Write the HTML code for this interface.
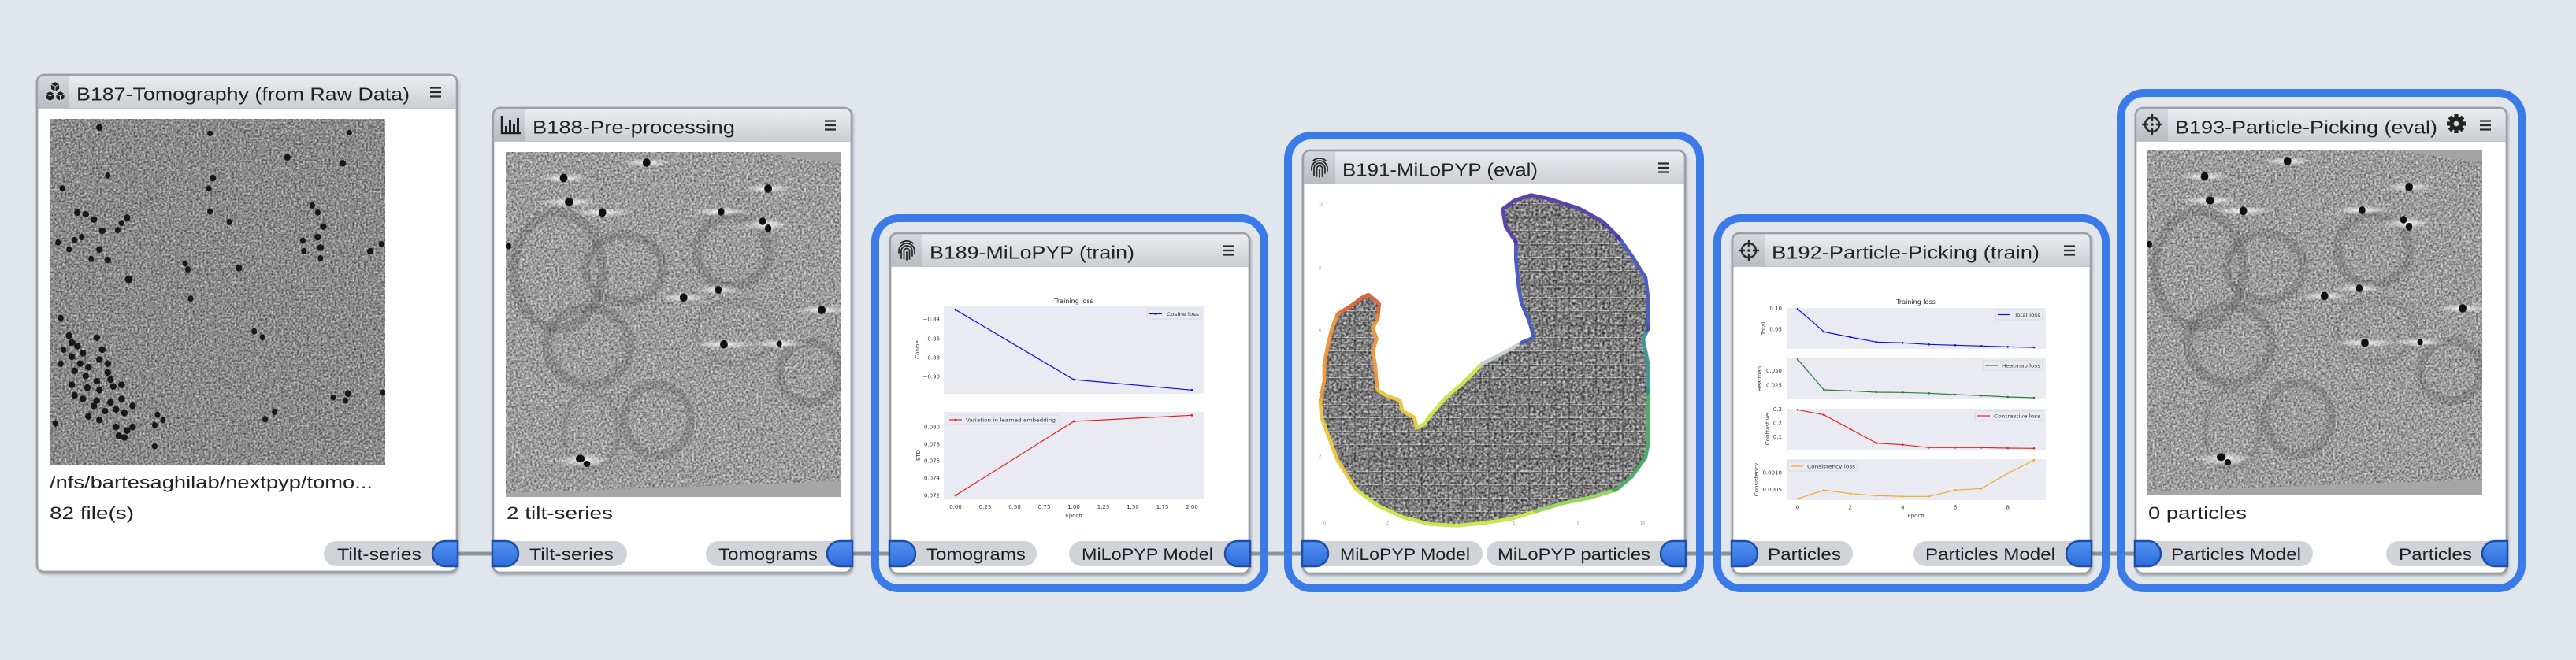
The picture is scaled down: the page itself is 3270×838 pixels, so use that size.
<!DOCTYPE html>
<html><head><meta charset="utf-8"><style>html,body{margin:0;padding:0;background:#e1e5ec;}svg{display:block}</style></head>
<body>
<svg xmlns="http://www.w3.org/2000/svg" xmlns:xlink="http://www.w3.org/1999/xlink" width="3270" height="838" viewBox="0 0 3270 838" font-family="'Liberation Sans', Arial, sans-serif">
<defs>
  <linearGradient id="hdr" x1="0" y1="0" x2="0" y2="1"><stop offset="0" stop-color="#ecedf0"/><stop offset="1" stop-color="#cbced3"/></linearGradient>
  <linearGradient id="ico" x1="0" y1="0" x2="0" y2="1"><stop offset="0" stop-color="#d6d8dc"/><stop offset="1" stop-color="#b8bbc1"/></linearGradient>
  <linearGradient id="pg" x1="0" y1="0" x2="0" y2="1"><stop offset="0" stop-color="#5293f3"/><stop offset="1" stop-color="#2e6cdb"/></linearGradient>
  <filter id="sh" x="-5%" y="-5%" width="110%" height="110%"><feDropShadow dx="1" dy="2" stdDeviation="1.6" flood-color="#000" flood-opacity="0.28"/></filter>
  <filter id="g1" x="0" y="0" width="1" height="1" color-interpolation-filters="sRGB"><feTurbulence type="fractalNoise" baseFrequency="0.4" numOctaves="3" seed="4"/><feColorMatrix type="matrix" values="0.8 0 0 0 0.14  0.8 0 0 0 0.14  0.8 0 0 0 0.14  0 0 0 0 1"/></filter>
  <filter id="g2" x="0" y="0" width="1" height="1" color-interpolation-filters="sRGB"><feTurbulence type="fractalNoise" baseFrequency="0.38" numOctaves="3" seed="9"/><feColorMatrix type="matrix" values="0.8 0 0 0 0.21  0.8 0 0 0 0.21  0.8 0 0 0 0.21  0 0 0 0 1"/></filter>
  <filter id="g3" x="0" y="0" width="1" height="1" color-interpolation-filters="sRGB"><feTurbulence type="fractalNoise" baseFrequency="0.32" numOctaves="3" seed="2"/><feColorMatrix type="matrix" values="1.0 0 0 0 0.0  1.0 0 0 0 0.0  1.0 0 0 0 0.0  0 0 0 0 1"/></filter>
  <radialGradient id="streak" cx="0.5" cy="0.5" r="0.5"><stop offset="0" stop-color="#fff" stop-opacity="0.9"/><stop offset="1" stop-color="#fff" stop-opacity="0"/></radialGradient>
  <clipPath id="c187"><rect x="63" y="151" width="426" height="439"/></clipPath>
  <clipPath id="c188"><rect x="642" y="193" width="426" height="438"/></clipPath>
  <clipPath id="blobclip"><path transform="translate(1650,230) scale(0.33333)" d="M260,440 L295,470 L290,520 L270,560 L285,600 L270,650 L280,700 L285,760 L290,800 L330,825 L375,840 L385,880 L430,905 L440,950 L480,930 L500,900 L560,830 L620,780 L700,700 L780,660 L850,620 L900,600 L880,530 L850,460 L840,400 L830,300 L830,230 L790,170 L780,110 L820,80 L880,60 L950,75 L1060,110 L1150,160 L1210,220 L1260,290 L1310,370 L1320,450 L1320,560 L1300,600 L1320,700 L1320,800 L1320,1000 L1310,1050 L1260,1120 L1200,1170 L1100,1200 L1000,1220 L900,1250 L800,1280 L700,1295 L600,1305 L500,1300 L400,1275 L300,1230 L220,1170 L150,1060 L120,980 L90,900 L85,840 L100,760 L100,700 L115,620 L130,560 L150,510 L200,480 L240,450 Z"/></clipPath>
  <pattern id="tiles" width="17" height="17" patternUnits="userSpaceOnUse" x="3" y="5"><rect x="0.5" y="0.5" width="16" height="16" fill="none" stroke="#2a2a2a" stroke-width="1" opacity="0.25"/><line x1="1" y1="15.5" x2="16" y2="15.5" stroke="#fff" stroke-width="1" opacity="0.35"/></pattern>

  <g id="tomo">
    <g clip-path="url(#c188)">
      <rect x="642" y="193" width="426" height="438" fill="#999" filter="url(#g2)"/>
      <g transform="matrix(0.70151,0,0,0.44643,0,60)" fill="none" stroke="#2e2e2e" stroke-opacity="0.17">
        <ellipse cx="1010" cy="635" rx="80" ry="165" vector-effect="non-scaling-stroke" stroke-width="12"/>
        <ellipse cx="1130" cy="630" rx="70" ry="95" vector-effect="non-scaling-stroke" stroke-width="11"/>
        <ellipse cx="1325" cy="580" rx="65" ry="100" vector-effect="non-scaling-stroke" stroke-width="12"/>
        <ellipse cx="1065" cy="850" rx="75" ry="110" vector-effect="non-scaling-stroke" stroke-width="12"/>
        <ellipse cx="1190" cy="1060" rx="60" ry="100" vector-effect="non-scaling-stroke" stroke-width="11"/>
        <ellipse cx="1465" cy="925" rx="55" ry="85" vector-effect="non-scaling-stroke" stroke-width="11"/>
        <ellipse cx="1330" cy="810" rx="70" ry="90" vector-effect="non-scaling-stroke" stroke-width="8" stroke-opacity="0.1"/>
        <ellipse cx="1070" cy="1090" rx="50" ry="110" vector-effect="non-scaling-stroke" stroke-width="8" stroke-opacity="0.1"/>
      </g>
      <g transform="matrix(0.70151,0,0,0.44643,0,60)">
        <g fill="url(#streak)">
          <ellipse cx="1020" cy="372" rx="45" ry="12"/><ellipse cx="1170" cy="328" rx="45" ry="12"/><ellipse cx="1390" cy="402" rx="45" ry="12"/>
          <ellipse cx="1090" cy="470" rx="55" ry="12"/><ellipse cx="1305" cy="468" rx="55" ry="12"/><ellipse cx="1385" cy="505" rx="45" ry="18"/>
          <ellipse cx="1300" cy="690" rx="45" ry="12"/><ellipse cx="1237" cy="712" rx="45" ry="12"/><ellipse cx="1487" cy="747" rx="50" ry="12"/>
          <ellipse cx="1310" cy="845" rx="60" ry="12"/><ellipse cx="1410" cy="843" rx="50" ry="12"/><ellipse cx="1030" cy="440" rx="55" ry="12"/>
          <ellipse cx="1055" cy="1175" rx="50" ry="20"/>
        </g>
        <g fill="#111">
          <ellipse cx="1020" cy="372" rx="7" ry="12"/><ellipse cx="1170" cy="328" rx="7" ry="12"/><ellipse cx="1390" cy="402" rx="7" ry="12"/>
          <ellipse cx="1090" cy="470" rx="7" ry="12"/><ellipse cx="1305" cy="468" rx="6" ry="11"/><ellipse cx="1380" cy="495" rx="6" ry="11"/><ellipse cx="1390" cy="515" rx="6" ry="11"/>
          <ellipse cx="1300" cy="690" rx="6" ry="11"/><ellipse cx="1237" cy="712" rx="7" ry="12"/><ellipse cx="1487" cy="747" rx="7" ry="12"/>
          <ellipse cx="1310" cy="845" rx="7" ry="12"/><ellipse cx="1410" cy="843" rx="5" ry="9"/><ellipse cx="1030" cy="440" rx="8" ry="11"/>
          <ellipse cx="1050" cy="1170" rx="8" ry="11"/><ellipse cx="1062" cy="1185" rx="6" ry="9"/><ellipse cx="920" cy="565" rx="5" ry="10"/>
        </g>
      </g>
      <polygon points="642,631 1068,631 1068,611 900,617 642,626" fill="#a6a6a6"/>
      <polygon points="1068,193 960,193 1068,208" fill="#a3a3a3"/>
    </g>
  </g>
</defs>

<rect x="0" y="0" width="3270" height="838" fill="#e1e5ec"/>

<!-- connection lines -->
<g stroke="#8e939b" stroke-width="5">
  <line x1="578" y1="703" x2="628" y2="703"/>
  <line x1="1079" y1="703" x2="1132" y2="703"/>
  <line x1="1584" y1="703" x2="1656" y2="703"/>
  <line x1="2137" y1="703" x2="2201" y2="703"/>
  <line x1="2652" y1="703" x2="2713" y2="703"/>
</g>

<!-- selection rings -->
<g fill="none" stroke="#3b7be8" stroke-width="10">
  <rect x="1111" y="277" width="494" height="470" rx="30"/>
  <rect x="1635" y="172" width="523" height="575" rx="30"/>
  <rect x="2180" y="277" width="493" height="470" rx="30"/>
  <rect x="2692" y="118" width="509" height="629" rx="30"/>
</g>

<!-- node bodies -->
<g fill="#fff" stroke="#9ba0a8" stroke-width="2.5" filter="url(#sh)">
  <rect x="47" y="95" width="533" height="631" rx="9"/>
  <rect x="626" y="137" width="455" height="590" rx="9"/>
  <rect x="1130" y="296" width="456" height="432" rx="9"/>
  <rect x="1654" y="191" width="485" height="537" rx="9"/>
  <rect x="2199" y="296" width="455" height="432" rx="9"/>
  <rect x="2711" y="137" width="471" height="591" rx="9"/>
</g>

<!-- headers -->
<g>
  <path d="M48.5,137 V104 Q48.5,96.5 56,96.5 H571 Q578.5,96.5 578.5,104 V137 Z" fill="url(#hdr)"/>
  <path d="M48.5,137 V104 Q48.5,96.5 56,96.5 H88 V137 Z" fill="url(#ico)"/>
  <line x1="48" y1="137.5" x2="579" y2="137.5" stroke="#c3c6cb" stroke-width="1"/>

  <path d="M627.5,179 V146 Q627.5,138.5 635,138.5 H1072 Q1079.5,138.5 1079.5,146 V179 Z" fill="url(#hdr)"/>
  <path d="M627.5,179 V146 Q627.5,138.5 635,138.5 H667 V179 Z" fill="url(#ico)"/>
  <line x1="627" y1="179.5" x2="1080" y2="179.5" stroke="#c3c6cb" stroke-width="1"/>

  <path d="M1131.5,338 V305 Q1131.5,297.5 1139,297.5 H1577 Q1584.5,297.5 1584.5,305 V338 Z" fill="url(#hdr)"/>
  <path d="M1131.5,338 V305 Q1131.5,297.5 1139,297.5 H1171 V338 Z" fill="url(#ico)"/>
  <line x1="1131" y1="338.5" x2="1585" y2="338.5" stroke="#c3c6cb" stroke-width="1"/>

  <path d="M1655.5,233 V200 Q1655.5,192.5 1663,192.5 H2130 Q2137.5,192.5 2137.5,200 V233 Z" fill="url(#hdr)"/>
  <path d="M1655.5,233 V200 Q1655.5,192.5 1663,192.5 H1695 V233 Z" fill="url(#ico)"/>
  <line x1="1655" y1="233.5" x2="2138" y2="233.5" stroke="#c3c6cb" stroke-width="1"/>

  <path d="M2200.5,338 V305 Q2200.5,297.5 2208,297.5 H2645 Q2652.5,297.5 2652.5,305 V338 Z" fill="url(#hdr)"/>
  <path d="M2200.5,338 V305 Q2200.5,297.5 2208,297.5 H2240 V338 Z" fill="url(#ico)"/>
  <line x1="2200" y1="338.5" x2="2653" y2="338.5" stroke="#c3c6cb" stroke-width="1"/>

  <path d="M2712.5,179 V146 Q2712.5,138.5 2720,138.5 H3173 Q3180.5,138.5 3180.5,146 V179 Z" fill="url(#hdr)"/>
  <path d="M2712.5,179 V146 Q2712.5,138.5 2720,138.5 H2752 V179 Z" fill="url(#ico)"/>
  <line x1="2712" y1="179.5" x2="3181" y2="179.5" stroke="#c3c6cb" stroke-width="1"/>
</g>

<!-- re-stroke borders over headers -->
<g fill="none" stroke="#9ba0a8" stroke-width="2.5">
  <rect x="47" y="95" width="533" height="631" rx="9"/>
  <rect x="626" y="137" width="455" height="590" rx="9"/>
  <rect x="1130" y="296" width="456" height="432" rx="9"/>
  <rect x="1654" y="191" width="485" height="537" rx="9"/>
  <rect x="2199" y="296" width="455" height="432" rx="9"/>
  <rect x="2711" y="137" width="471" height="591" rx="9"/>
</g>

<!-- titles -->
<g font-size="23" fill="#222">
  <text x="97" y="127.5" textLength="423" lengthAdjust="spacingAndGlyphs">B187-Tomography (from Raw Data)</text>
  <text x="676" y="169.5" textLength="257" lengthAdjust="spacingAndGlyphs">B188-Pre-processing</text>
  <text x="1180" y="328.5" textLength="260" lengthAdjust="spacingAndGlyphs">B189-MiLoPYP (train)</text>
  <text x="1704" y="223.5" textLength="248" lengthAdjust="spacingAndGlyphs">B191-MiLoPYP (eval)</text>
  <text x="2249" y="328.5" textLength="340" lengthAdjust="spacingAndGlyphs">B192-Particle-Picking (train)</text>
  <text x="2761" y="169.5" textLength="333" lengthAdjust="spacingAndGlyphs">B193-Particle-Picking (eval)</text>
</g>

<!-- hamburgers -->
<g stroke="#2a2a2a" stroke-width="2.3">
  <path d="M546,111.5 H560 M546,117 H560 M546,122.5 H560"/>
  <path d="M1047,153.5 H1061 M1047,159 H1061 M1047,164.5 H1061"/>
  <path d="M1552,312.5 H1566 M1552,318 H1566 M1552,323.5 H1566"/>
  <path d="M2105,207.5 H2119 M2105,213 H2119 M2105,218.5 H2119"/>
  <path d="M2620,312.5 H2634 M2620,318 H2634 M2620,323.5 H2634"/>
  <path d="M3148,153.5 H3162 M3148,159 H3162 M3148,164.5 H3162"/>
</g>

<!-- icons -->
<g>
  <g fill="#222" stroke="#d4d6da" stroke-width="1">
    <g transform="translate(70,110)"><polygon points="0,-6.5 5.6,-3.25 5.6,3.25 0,6.5 -5.6,3.25 -5.6,-3.25"/><path d="M0,0 V6.5 M0,0 L5.6,-3.25 M0,0 L-5.6,-3.25" fill="none"/></g>
    <g transform="translate(63.5,122)"><polygon points="0,-6.5 5.6,-3.25 5.6,3.25 0,6.5 -5.6,3.25 -5.6,-3.25"/><path d="M0,0 V6.5 M0,0 L5.6,-3.25 M0,0 L-5.6,-3.25" fill="none"/></g>
    <g transform="translate(76.5,122)"><polygon points="0,-6.5 5.6,-3.25 5.6,3.25 0,6.5 -5.6,3.25 -5.6,-3.25"/><path d="M0,0 V6.5 M0,0 L5.6,-3.25 M0,0 L-5.6,-3.25" fill="none"/></g>
  </g>
  <path d="M637,147 V169 H661" stroke="#222" stroke-width="2.4" fill="none"/>
  <g fill="#222"><rect x="641" y="160" width="3" height="7"/><rect x="646" y="152" width="3" height="15"/><rect x="651" y="157" width="3" height="10"/><rect x="656" y="150" width="3" height="17"/></g>
  <g fill="none" stroke="#2a2a2a" stroke-width="1.8" stroke-linecap="round">
    <g transform="translate(1151,318)"><path d="M-10,3 V1 A10,10 0 0 1 10,1 V4"/><path d="M-7,10 V1 A7,7 0 0 1 7,1 V7"/><path d="M-3.5,11 V1 A3.5,3.5 0 0 1 3.5,1 V11"/><path d="M0,2 V12"/><path d="M-8,-9 A12,12 0 0 1 8,-9"/></g>
    <g transform="translate(1675,213)"><path d="M-10,3 V1 A10,10 0 0 1 10,1 V4"/><path d="M-7,10 V1 A7,7 0 0 1 7,1 V7"/><path d="M-3.5,11 V1 A3.5,3.5 0 0 1 3.5,1 V11"/><path d="M0,2 V12"/><path d="M-8,-9 A12,12 0 0 1 8,-9"/></g>
  </g>
  <g fill="none" stroke="#2a2a2a" stroke-width="2.4">
    <g transform="translate(2220,318)"><circle r="9"/><path d="M0,-13 V-5 M0,5 V13 M-13,0 H-5 M5,0 H13"/><circle r="1.8" fill="#2a2a2a" stroke="none"/></g>
    <g transform="translate(2732,158)"><circle r="9"/><path d="M0,-13 V-5 M0,5 V13 M-13,0 H-5 M5,0 H13"/><circle r="1.8" fill="#2a2a2a" stroke="none"/></g>
  </g>
  <g transform="translate(3118,157)" fill="#222">
    <circle r="8.5"/>
    <rect x="-2.6" y="-12" width="5.2" height="6"/><rect x="-2.6" y="-12" width="5.2" height="6" transform="rotate(45)"/><rect x="-2.6" y="-12" width="5.2" height="6" transform="rotate(90)"/><rect x="-2.6" y="-12" width="5.2" height="6" transform="rotate(135)"/>
    <rect x="-2.6" y="-12" width="5.2" height="6" transform="rotate(180)"/><rect x="-2.6" y="-12" width="5.2" height="6" transform="rotate(225)"/><rect x="-2.6" y="-12" width="5.2" height="6" transform="rotate(270)"/><rect x="-2.6" y="-12" width="5.2" height="6" transform="rotate(315)"/>
    <circle r="3.4" fill="#d3d5d9"/>
  </g>
</g>

<!-- B187 image -->
<g clip-path="url(#c187)">
  <rect x="63" y="151" width="426" height="439" fill="#8c8c8c" filter="url(#g1)"/>
  <g transform="matrix(0.70151,0,0,0.44643,0,60)" fill="#181818">
    <ellipse cx="180" cy="228" rx="6" ry="9.5"/><ellipse cx="380" cy="245" rx="5" ry="8"/><ellipse cx="632" cy="243" rx="5" ry="8"/><ellipse cx="520" cy="313" rx="6" ry="9.5"/><ellipse cx="620" cy="330" rx="6" ry="9.5"/>
    <ellipse cx="385" cy="372" rx="6" ry="9.5"/><ellipse cx="378" cy="402" rx="5" ry="9"/><ellipse cx="195" cy="365" rx="5" ry="9"/><ellipse cx="113" cy="402" rx="5" ry="9"/><ellipse cx="380" cy="467" rx="5" ry="9"/>
    <ellipse cx="140" cy="470" rx="6" ry="9.5"/><ellipse cx="155" cy="475" rx="6" ry="9.5"/><ellipse cx="170" cy="490" rx="6" ry="9.5"/><ellipse cx="230" cy="485" rx="6" ry="9.5"/><ellipse cx="220" cy="500" rx="5" ry="9"/>
    <ellipse cx="185" cy="522" rx="6" ry="9.5"/><ellipse cx="213" cy="520" rx="5" ry="9"/><ellipse cx="415" cy="497" rx="5" ry="9"/><ellipse cx="565" cy="450" rx="5" ry="9"/><ellipse cx="575" cy="470" rx="5" ry="9"/>
    <ellipse cx="585" cy="510" rx="6" ry="9.5"/><ellipse cx="548" cy="550" rx="5" ry="9"/><ellipse cx="575" cy="540" rx="6" ry="9.5"/><ellipse cx="550" cy="580" rx="5" ry="9"/><ellipse cx="580" cy="570" rx="6" ry="9.5"/>
    <ellipse cx="580" cy="600" rx="5" ry="9"/><ellipse cx="670" cy="580" rx="6" ry="9.5"/><ellipse cx="690" cy="560" rx="5" ry="9"/><ellipse cx="105" cy="555" rx="5" ry="9"/><ellipse cx="135" cy="548" rx="5" ry="9"/>
    <ellipse cx="148" cy="540" rx="5" ry="9"/><ellipse cx="125" cy="575" rx="5" ry="9"/><ellipse cx="180" cy="575" rx="6" ry="9.5"/><ellipse cx="195" cy="605" rx="6" ry="9.5"/><ellipse cx="165" cy="602" rx="5" ry="9"/>
    <ellipse cx="335" cy="615" rx="5" ry="9"/><ellipse cx="340" cy="632" rx="5" ry="9"/><ellipse cx="432" cy="628" rx="6" ry="9.5"/><ellipse cx="233" cy="660" rx="7" ry="11"/><ellipse cx="345" cy="715" rx="5" ry="9"/>
    <ellipse cx="110" cy="770" rx="5" ry="9"/><ellipse cx="125" cy="820" rx="6" ry="9.5"/><ellipse cx="130" cy="840" rx="6" ry="9.5"/><ellipse cx="175" cy="826" rx="6" ry="9.5"/><ellipse cx="140" cy="850" rx="6" ry="9.5"/>
    <ellipse cx="115" cy="860" rx="5" ry="9"/><ellipse cx="150" cy="870" rx="6" ry="9.5"/><ellipse cx="185" cy="860" rx="6" ry="9.5"/><ellipse cx="130" cy="880" rx="6" ry="9.5"/><ellipse cx="145" cy="900" rx="6" ry="9.5"/>
    <ellipse cx="160" cy="910" rx="6" ry="9.5"/><ellipse cx="180" cy="888" rx="6" ry="9.5"/><ellipse cx="195" cy="900" rx="6" ry="9.5"/><ellipse cx="110" cy="900" rx="5" ry="9"/><ellipse cx="135" cy="920" rx="6" ry="9.5"/>
    <ellipse cx="155" cy="935" rx="6" ry="9.5"/><ellipse cx="175" cy="950" rx="6" ry="9.5"/><ellipse cx="195" cy="925" rx="6" ry="9.5"/><ellipse cx="200" cy="945" rx="6" ry="9.5"/><ellipse cx="130" cy="960" rx="6" ry="9.5"/>
    <ellipse cx="158" cy="968" rx="6" ry="9.5"/><ellipse cx="180" cy="975" rx="6" ry="9.5"/><ellipse cx="205" cy="965" rx="6" ry="9.5"/><ellipse cx="220" cy="960" rx="6" ry="9.5"/><ellipse cx="135" cy="990" rx="6" ry="9.5"/>
    <ellipse cx="150" cy="1000" rx="6" ry="9.5"/><ellipse cx="175" cy="1005" rx="6" ry="9.5"/><ellipse cx="200" cy="1010" rx="6" ry="9.5"/><ellipse cx="210" cy="1030" rx="6" ry="9.5"/><ellipse cx="225" cy="1040" rx="6" ry="9.5"/>
    <ellipse cx="240" cy="1020" rx="6" ry="9.5"/><ellipse cx="170" cy="1020" rx="6" ry="9.5"/><ellipse cx="160" cy="1050" rx="6" ry="9.5"/><ellipse cx="180" cy="1060" rx="6" ry="9.5"/><ellipse cx="100" cy="1070" rx="5" ry="9"/>
    <ellipse cx="210" cy="1080" rx="6" ry="9.5"/><ellipse cx="230" cy="1090" rx="6" ry="9.5"/><ellipse cx="215" cy="1105" rx="6" ry="9.5"/><ellipse cx="225" cy="1110" rx="6" ry="9.5"/><ellipse cx="280" cy="1135" rx="5" ry="9"/>
    <ellipse cx="285" cy="1045" rx="5" ry="9"/><ellipse cx="295" cy="1060" rx="5" ry="9"/><ellipse cx="280" cy="1075" rx="5" ry="9"/><ellipse cx="460" cy="808" rx="5" ry="9"/><ellipse cx="475" cy="825" rx="5" ry="9"/>
    <ellipse cx="497" cy="1037" rx="5" ry="9"/><ellipse cx="480" cy="1058" rx="5" ry="9"/><ellipse cx="603" cy="996" rx="5" ry="9"/><ellipse cx="630" cy="985" rx="6" ry="9.5"/><ellipse cx="625" cy="1005" rx="5" ry="9"/>
    <ellipse cx="693" cy="982" rx="5" ry="9"/><ellipse cx="220" cy="1000" rx="6" ry="9.5"/><ellipse cx="190" cy="1035" rx="6" ry="9.5"/><ellipse cx="240" cy="1080" rx="6" ry="9.5"/>
  </g>
</g>

<!-- B188 and B193 tomogram images -->
<use xlink:href="#tomo" href="#tomo"/>
<use xlink:href="#tomo" href="#tomo" x="2083" y="-2"/>

<!-- content texts -->
<g font-size="22.5" fill="#222">
  <text x="63" y="620" textLength="410" lengthAdjust="spacingAndGlyphs">/nfs/bartesaghilab/nextpyp/tomo...</text>
  <text x="63" y="659" textLength="107" lengthAdjust="spacingAndGlyphs">82 file(s)</text>
  <text x="643" y="659" textLength="135" lengthAdjust="spacingAndGlyphs">2 tilt-series</text>
  <text x="2727" y="659" textLength="125" lengthAdjust="spacingAndGlyphs">0 particles</text>
</g>

<!-- B189 chart -->
<g font-family="'DejaVu Sans', sans-serif" fill="#333">
  <rect x="1198" y="389" width="330" height="111" fill="#eaeaf2"/>
  <rect x="1198" y="523" width="330" height="110" fill="#eaeaf2"/>
  <text x="1363" y="385" font-size="8" text-anchor="middle" fill="#262626">Training loss</text>
  <polyline points="1213,393.3 1363,482 1513,495.3" fill="none" stroke="#1010e0" stroke-width="1.2"/>
  <g fill="#1010e0"><circle cx="1213" cy="393.3" r="1.4"/><circle cx="1363" cy="482" r="1.4"/><circle cx="1513" cy="495.3" r="1.4"/></g>
  <polyline points="1213,629 1363,535 1513,527.3" fill="none" stroke="#e02020" stroke-width="1.2"/>
  <g fill="#e02020"><circle cx="1213" cy="629" r="1.4"/><circle cx="1363" cy="535" r="1.4"/><circle cx="1513" cy="527.3" r="1.4"/></g>
  <g font-size="7" text-anchor="end">
    <text x="1193" y="407.5">−0.84</text><text x="1193" y="432.5">−0.86</text><text x="1193" y="456.5">−0.88</text><text x="1193" y="480.5">−0.90</text>
    <text x="1193" y="544.5">0.080</text><text x="1193" y="566.5">0.078</text><text x="1193" y="587.5">0.076</text><text x="1193" y="609.5">0.074</text><text x="1193" y="631.5">0.072</text>
  </g>
  <g font-size="7" text-anchor="middle">
    <text x="1213" y="646">0.00</text><text x="1250.5" y="646">0.25</text><text x="1288" y="646">0.50</text><text x="1325.5" y="646">0.75</text><text x="1363" y="646">1.00</text>
    <text x="1400.5" y="646">1.25</text><text x="1438" y="646">1.50</text><text x="1475.5" y="646">1.75</text><text x="1513" y="646">2.00</text>
    <text x="1363" y="657">Epoch</text>
    <text transform="translate(1167,444) rotate(-90)">Cosine</text>
    <text transform="translate(1168,578) rotate(-90)">STD</text>
  </g>
  <rect x="1456" y="392" width="69" height="13" rx="2" fill="#eaeaf2" stroke="#d2d2da" stroke-width="0.8"/>
  <line x1="1459" y1="398.5" x2="1475" y2="398.5" stroke="#1010e0" stroke-width="1.2"/><circle cx="1467" cy="398.5" r="1.4" fill="#1010e0"/>
  <text x="1481" y="401" font-size="6.5" textLength="41" lengthAdjust="spacingAndGlyphs">Cosine loss</text>
  <rect x="1203" y="527" width="143" height="12" rx="2" fill="#eaeaf2" stroke="#d2d2da" stroke-width="0.8"/>
  <line x1="1205" y1="533" x2="1221" y2="533" stroke="#e02020" stroke-width="1.2"/><circle cx="1213" cy="533" r="1.4" fill="#e02020"/>
  <text x="1226" y="535.5" font-size="6.5" textLength="114" lengthAdjust="spacingAndGlyphs">Variation in learned embedding</text>
</g>

<!-- B191 scatter -->
<g>
  <g transform="translate(1650,230) scale(0.33333)" fill="none" stroke-width="28" stroke-linejoin="round" stroke-linecap="round" stroke-opacity="0.9">
    <path stroke="#d9552c" d="M150,510 L200,480 L240,450 L260,440 L295,470 L290,520"/>
    <path stroke="#ea8c2d" d="M290,520 L270,560 L285,600 L270,650 L280,700 L285,760 L290,800 M150,510 L130,560 L115,620 L100,700 L100,760 L85,840"/>
    <path stroke="#e8c030" d="M290,800 L330,825 L375,840 L385,880 L430,905 L440,950 M85,840 L90,900 L120,980 L150,1060 L220,1170"/>
    <path stroke="#c8e03c" d="M440,950 L480,930 L500,900 L560,830 L620,780 L700,700 M220,1170 L300,1230 L400,1275 L500,1300 L600,1305 L700,1295 L800,1280 L900,1250"/>
    <path stroke="#8fd050" d="M900,1250 L1000,1220 L1100,1200 L1200,1170"/>
    <path stroke="#c4c8cc" d="M700,700 L780,660 L850,620"/>
    <path stroke="#3aa455" d="M1200,1170 L1260,1120 L1310,1050 L1320,1000 L1320,800"/>
    <path stroke="#2e8a8a" d="M1320,800 L1320,700 L1300,600 L1320,560"/>
    <path stroke="#3a4db8" d="M1320,560 L1320,450 L1310,370 L1260,290 L1210,220 M850,620 L900,600 L880,530 L850,460 L840,400 L830,300 L830,230"/>
    <path stroke="#4a2ea6" d="M1210,220 L1150,160 L1060,110 L950,75 L880,60 L820,80 L780,110 L790,170 L830,230"/>
  </g>
  <g clip-path="url(#blobclip)">
    <rect x="1670" y="245" width="432" height="425" fill="#7a7a7a" filter="url(#g3)"/>
    <rect x="1670" y="245" width="432" height="425" fill="url(#tiles)"/>
  </g>
  <g font-family="'DejaVu Sans', sans-serif" font-size="5" fill="#999">
    <text x="1674" y="261">10</text><text x="1674" y="342">8</text><text x="1674" y="421">6</text><text x="1674" y="500">4</text><text x="1674" y="581">2</text>
    <text x="1680" y="666">0</text><text x="1760" y="666">2</text><text x="1920" y="666">6</text><text x="2002" y="666">8</text><text x="2082" y="666">10</text>
  </g>
</g>

<!-- B192 chart -->
<g font-family="'DejaVu Sans', sans-serif" fill="#333">
  <rect x="2268" y="391" width="329" height="52" fill="#eaeaf2"/>
  <rect x="2268" y="455" width="329" height="52" fill="#eaeaf2"/>
  <rect x="2268" y="519" width="329" height="52" fill="#eaeaf2"/>
  <rect x="2268" y="583" width="329" height="52" fill="#eaeaf2"/>
  <text x="2432" y="386" font-size="8" text-anchor="middle" fill="#262626">Training loss</text>
  <g fill="none" stroke-width="1.2">
    <polyline stroke="#1010e0" points="2282,392.3 2315.3,421.3 2348.7,428 2382,434.3 2415.3,435.3 2448.7,437.3 2482,438.3 2515.3,439.3 2548.7,440.3 2582,441"/>
    <polyline stroke="#2e7d32" points="2282,456.3 2315.3,495 2348.7,496.3 2382,498 2415.3,498.3 2448.7,499.3 2482,501 2515.3,502.3 2548.7,504 2582,505"/>
    <polyline stroke="#e02828" points="2282,520.3 2315.3,526.7 2348.7,544.7 2382,562.7 2415.3,564.7 2448.7,568.3 2482,568.3 2515.3,568.3 2548.7,569 2582,569.3"/>
    <polyline stroke="#f0a830" points="2282,633.3 2315.3,622.3 2348.7,626.7 2382,629.3 2415.3,630.3 2448.7,630.3 2482,622.3 2515.3,620.3 2548.7,601 2582,584.3"/>
  </g>
  <g fill="#1010e0"><circle cx="2282" cy="392.3" r="1.3"/><circle cx="2315.3" cy="421.3" r="1.3"/><circle cx="2348.7" cy="428" r="1.3"/><circle cx="2382" cy="434.3" r="1.3"/><circle cx="2415.3" cy="435.3" r="1.3"/><circle cx="2448.7" cy="437.3" r="1.3"/><circle cx="2482" cy="438.3" r="1.3"/><circle cx="2515.3" cy="439.3" r="1.3"/><circle cx="2548.7" cy="440.3" r="1.3"/><circle cx="2582" cy="441" r="1.3"/></g>
  <g fill="#2e7d32"><circle cx="2282" cy="456.3" r="1.3"/><circle cx="2315.3" cy="495" r="1.3"/><circle cx="2348.7" cy="496.3" r="1.3"/><circle cx="2382" cy="498" r="1.3"/><circle cx="2415.3" cy="498.3" r="1.3"/><circle cx="2448.7" cy="499.3" r="1.3"/><circle cx="2482" cy="501" r="1.3"/><circle cx="2515.3" cy="502.3" r="1.3"/><circle cx="2548.7" cy="504" r="1.3"/><circle cx="2582" cy="505" r="1.3"/></g>
  <g fill="#e02828"><circle cx="2282" cy="520.3" r="1.3"/><circle cx="2315.3" cy="526.7" r="1.3"/><circle cx="2348.7" cy="544.7" r="1.3"/><circle cx="2382" cy="562.7" r="1.3"/><circle cx="2415.3" cy="564.7" r="1.3"/><circle cx="2448.7" cy="568.3" r="1.3"/><circle cx="2482" cy="568.3" r="1.3"/><circle cx="2515.3" cy="568.3" r="1.3"/><circle cx="2548.7" cy="569" r="1.3"/><circle cx="2582" cy="569.3" r="1.3"/></g>
  <g fill="#f0a830"><circle cx="2282" cy="633.3" r="1.3"/><circle cx="2315.3" cy="622.3" r="1.3"/><circle cx="2348.7" cy="626.7" r="1.3"/><circle cx="2382" cy="629.3" r="1.3"/><circle cx="2415.3" cy="630.3" r="1.3"/><circle cx="2448.7" cy="630.3" r="1.3"/><circle cx="2482" cy="622.3" r="1.3"/><circle cx="2515.3" cy="620.3" r="1.3"/><circle cx="2548.7" cy="601" r="1.3"/><circle cx="2582" cy="584.3" r="1.3"/></g>
  <g font-size="7" text-anchor="end">
    <text x="2262" y="394">0.10</text><text x="2262" y="420.5">0.05</text>
    <text x="2262" y="473">0.050</text><text x="2262" y="491.5">0.025</text>
    <text x="2262" y="522">0.3</text><text x="2262" y="539.5">0.2</text><text x="2262" y="557">0.1</text>
    <text x="2262" y="602.5">0.0010</text><text x="2262" y="624">0.0005</text>
  </g>
  <g font-size="7" text-anchor="middle">
    <text x="2282" y="646.5">0</text><text x="2348.7" y="646.5">2</text><text x="2415.3" y="646.5">4</text><text x="2482" y="646.5">6</text><text x="2548.7" y="646.5">8</text>
    <text x="2432" y="657">Epoch</text>
    <text transform="translate(2241,417) rotate(-90)">Total</text>
    <text transform="translate(2236,481) rotate(-90)">Heatmap</text>
    <text transform="translate(2246,545) rotate(-90)">Contrastive</text>
    <text transform="translate(2232,609) rotate(-90)">Consistency</text>
  </g>
  <g fill="#eaeaf2" stroke="#d2d2da" stroke-width="0.8">
    <rect x="2533" y="393" width="60" height="13" rx="2"/>
    <rect x="2517" y="458" width="76" height="12" rx="2"/>
    <rect x="2507" y="522" width="86" height="12" rx="2"/>
    <rect x="2270" y="586" width="88" height="12" rx="2"/>
  </g>
  <g stroke-width="1.2">
    <line x1="2536" y1="399.5" x2="2552" y2="399.5" stroke="#1010e0"/>
    <line x1="2520" y1="464" x2="2536" y2="464" stroke="#2e7d32"/>
    <line x1="2510" y1="528" x2="2526" y2="528" stroke="#e02828"/>
    <line x1="2273" y1="592" x2="2289" y2="592" stroke="#f0a830"/>
  </g>
  <g font-size="6.5">
    <text x="2557" y="402" textLength="33" lengthAdjust="spacingAndGlyphs">Total loss</text>
    <text x="2541" y="466.5" textLength="49" lengthAdjust="spacingAndGlyphs">Heatmap loss</text>
    <text x="2531" y="530.5" textLength="59" lengthAdjust="spacingAndGlyphs">Contrastive loss</text>
    <text x="2294" y="594.5" textLength="61" lengthAdjust="spacingAndGlyphs">Consistency loss</text>
  </g>
</g>

<!-- port pills -->
<g fill="#d0d3d8">
  <rect x="411" y="687" width="169" height="32" rx="16"/>
  <rect x="626" y="687" width="170" height="32" rx="16"/>
  <rect x="896" y="687" width="185" height="32" rx="16"/>
  <rect x="1130" y="687" width="186" height="32" rx="16"/>
  <rect x="1357" y="687" width="229" height="32" rx="16"/>
  <rect x="1654" y="687" width="228" height="32" rx="16"/>
  <rect x="1887" y="687" width="252" height="32" rx="16"/>
  <rect x="2199" y="687" width="153" height="32" rx="16"/>
  <rect x="2429" y="687" width="225" height="32" rx="16"/>
  <rect x="2711" y="687" width="225" height="32" rx="16"/>
  <rect x="3029" y="687" width="153" height="32" rx="16"/>
</g>

<!-- ports -->
<g fill="url(#pg)" stroke="#1f4ea6" stroke-width="2.5">
  <path d="M581,687 H565 A16,16 0 0 0 565,719 H581 Z"/>
  <path d="M625,687 H642 A16,16 0 0 1 642,719 H625 Z"/>
  <path d="M1082,687 H1066 A16,16 0 0 0 1066,719 H1082 Z"/>
  <path d="M1129,687 H1146 A16,16 0 0 1 1146,719 H1129 Z"/>
  <path d="M1587,687 H1571 A16,16 0 0 0 1571,719 H1587 Z"/>
  <path d="M1653,687 H1670 A16,16 0 0 1 1670,719 H1653 Z"/>
  <path d="M2140,687 H2124 A16,16 0 0 0 2124,719 H2140 Z"/>
  <path d="M2198,687 H2215 A16,16 0 0 1 2215,719 H2198 Z"/>
  <path d="M2655,687 H2639 A16,16 0 0 0 2639,719 H2655 Z"/>
  <path d="M2710,687 H2727 A16,16 0 0 1 2727,719 H2710 Z"/>
  <path d="M3183,687 H3167 A16,16 0 0 0 3167,719 H3183 Z"/>
</g>

<!-- port labels -->
<g font-size="21" fill="#1e1e1e">
  <text x="428" y="711" textLength="107" lengthAdjust="spacingAndGlyphs">Tilt-series</text>
  <text x="672" y="711" textLength="107" lengthAdjust="spacingAndGlyphs">Tilt-series</text>
  <text x="912" y="711" textLength="126" lengthAdjust="spacingAndGlyphs">Tomograms</text>
  <text x="1176" y="711" textLength="126" lengthAdjust="spacingAndGlyphs">Tomograms</text>
  <text x="1373" y="711" textLength="167" lengthAdjust="spacingAndGlyphs">MiLoPYP Model</text>
  <text x="1701" y="711" textLength="165" lengthAdjust="spacingAndGlyphs">MiLoPYP Model</text>
  <text x="1901" y="711" textLength="194" lengthAdjust="spacingAndGlyphs">MiLoPYP particles</text>
  <text x="2244" y="711" textLength="93" lengthAdjust="spacingAndGlyphs">Particles</text>
  <text x="2444" y="711" textLength="165" lengthAdjust="spacingAndGlyphs">Particles Model</text>
  <text x="2756" y="711" textLength="165" lengthAdjust="spacingAndGlyphs">Particles Model</text>
  <text x="3045" y="711" textLength="93" lengthAdjust="spacingAndGlyphs">Particles</text>
</g>
</svg>
</body></html>
